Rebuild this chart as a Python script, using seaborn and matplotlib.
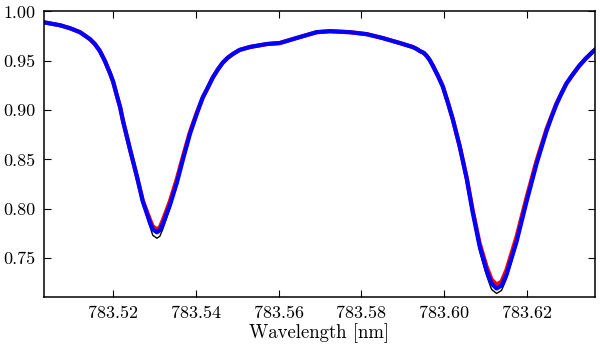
import matplotlib
matplotlib.use("Agg")
import matplotlib.pyplot as plt
import matplotlib.ticker as mticker
import seaborn as sns
import pandas as pd

wavelength = [783.5033, 783.5072, 783.5096, 783.5120, 783.5144, 783.5156, 783.5168, 783.5180,
              783.5192, 783.5200, 783.5209, 783.5217, 783.5224, 783.5241, 783.5258,
              783.5272, 783.5289, 783.5296, 783.5306, 783.5313, 783.5320, 783.5337, 783.5354,
              783.5369,
              783.5386, 783.5403, 783.5417, 783.5427, 783.5441, 783.5453, 783.5465, 783.5477,
              783.5490, 783.5506, 783.5531, 783.5572, 783.5603, 783.5627, 783.5651, 783.5692,
              783.5724, 783.5772, 783.5813, 783.5852, 783.5893, 783.5924, 783.5934, 783.5941,
              783.5951, 783.5958, 783.5965, 783.5973, 783.5985, 783.5997, 783.6009, 783.6021,
              783.6038, 783.6055, 783.6069, 783.6086, 783.6103, 783.6115, 783.6127, 783.6139,
              783.6151, 783.6175, 783.6200, 783.6224,
              783.6248, 783.6260, 783.6272, 783.6284, 783.6296, 783.6311, 783.6327, 783.6342,
              783.6359, 783.6370]

blue = [0.989, 0.986, 0.983, 0.979, 0.972, 0.967, 0.960, 0.950,
        0.938, 0.929, 0.915, 0.903, 0.889, 0.860, 0.832,
        0.807, 0.786, 0.779, 0.776, 0.778, 0.784, 0.803, 0.826,
        0.850,
        0.876, 0.897, 0.913, 0.921, 0.933, 0.941, 0.948, 0.953,
        0.957, 0.961, 0.964, 0.967, 0.968, 0.971, 0.974, 0.979,
        0.980, 0.979, 0.977, 0.973, 0.968, 0.964, 0.962, 0.960,
        0.958, 0.955, 0.951, 0.945, 0.935, 0.924, 0.908, 0.891,
        0.863, 0.830, 0.797, 0.762, 0.737, 0.724, 0.719, 0.722,
        0.733, 0.766, 0.808, 0.846,
        0.879, 0.893, 0.906, 0.917, 0.927, 0.936, 0.945, 0.952,
        0.959, 0.963]

red = [0.989, 0.986, 0.983, 0.979, 0.972, 0.967, 0.960, 0.950,
       0.938, 0.929, 0.915, 0.903, 0.889, 0.860, 0.832,
       0.808, 0.789, 0.782, 0.779, 0.781, 0.788, 0.807, 0.830,
       0.853,
       0.878, 0.898, 0.913, 0.921, 0.933, 0.941, 0.948, 0.953,
       0.957, 0.961, 0.964, 0.967, 0.968, 0.971, 0.974, 0.979,
       0.980, 0.979, 0.977, 0.973, 0.968, 0.964, 0.962, 0.960,
       0.958, 0.955, 0.951, 0.945, 0.935, 0.924, 0.908, 0.891,
       0.863, 0.831, 0.799, 0.765, 0.741, 0.728, 0.723, 0.726,
       0.738, 0.771, 0.812, 0.849,
       0.881, 0.894, 0.907, 0.917, 0.927, 0.936, 0.945, 0.952,
       0.959, 0.963]

black = [0.989, 0.986, 0.983, 0.979, 0.972, 0.967, 0.960, 0.950,
         0.938, 0.929, 0.915, 0.903, 0.889, 0.860, 0.831,
         0.805, 0.782, 0.773, 0.770, 0.772, 0.779, 0.800, 0.825,
         0.850,
         0.876, 0.897, 0.913, 0.921, 0.933, 0.941, 0.948, 0.953,
         0.957, 0.961, 0.964, 0.967, 0.968, 0.971, 0.974, 0.979,
         0.980, 0.979, 0.977, 0.973, 0.968, 0.964, 0.962, 0.960,
         0.958, 0.955, 0.951, 0.945, 0.935, 0.924, 0.908, 0.891,
         0.862, 0.828, 0.794, 0.757, 0.732, 0.718, 0.714, 0.717,
         0.729, 0.763, 0.807, 0.846,
         0.879, 0.893, 0.906, 0.917, 0.927, 0.936, 0.945, 0.952,
         0.959, 0.963]

x_ticks = [783.52, 783.54, 783.56, 783.58, 783.60, 783.62]
y_ticks = [0.75, 0.80, 0.85, 0.90, 0.95, 1.00]

n = len(wavelength)
df = pd.DataFrame({
    "wl": wavelength * 3,
    "I": black + red + blue,
    "series": ["black"] * n + ["red"] * n + ["blue"] * n,
})

sns.set_theme(style="ticks")
plt.rcParams["font.family"] = ["cmr10", "DejaVu Serif"]
plt.rcParams["axes.formatter.use_mathtext"] = True
plt.rcParams["axes.unicode_minus"] = False
plt.rcParams["text.color"] = "black"
plt.rcParams["axes.labelcolor"] = "black"
plt.rcParams["xtick.color"] = "black"
plt.rcParams["ytick.color"] = "black"

fig = plt.figure(figsize=(6.0, 3.48), dpi=100)
ax = fig.add_axes([0.0733, 0.1466, 0.9184, 0.8204])

widths = {"black": 1.0, "red": 3.0, "blue": 3.0}
colors = {"black": "#000000", "red": "#ff0000", "blue": "#0000ff"}
for name in ["black", "red", "blue"]:
    sns.lineplot(data=df[df["series"] == name], x="wl", y="I", color=colors[name],
                 linewidth=widths[name], ax=ax, sort=False, legend=False,
                 solid_joinstyle="round", solid_capstyle="round")

ax.set_xlim(783.5033, 783.6365)
ax.set_ylim(0.7104, 1.00)
ax.set_xticks(x_ticks)
ax.set_yticks(y_ticks)
ax.xaxis.set_major_formatter(mticker.FormatStrFormatter("%.2f"))
ax.yaxis.set_major_formatter(mticker.FormatStrFormatter("%.2f"))
ax.tick_params(direction="in", length=5, width=0.8, top=True, right=True,
               labelsize=13, pad=6, colors="black", labelcolor="black")
for s in ax.spines.values():
    s.set_linewidth(1.1)
    s.set_color("black")
ax.set_xlabel("Wavelength [nm]", fontsize=13.5, labelpad=2, color="black")
ax.set_ylabel("")
ax.grid(False)

fig.savefig("out.png", dpi=100)
